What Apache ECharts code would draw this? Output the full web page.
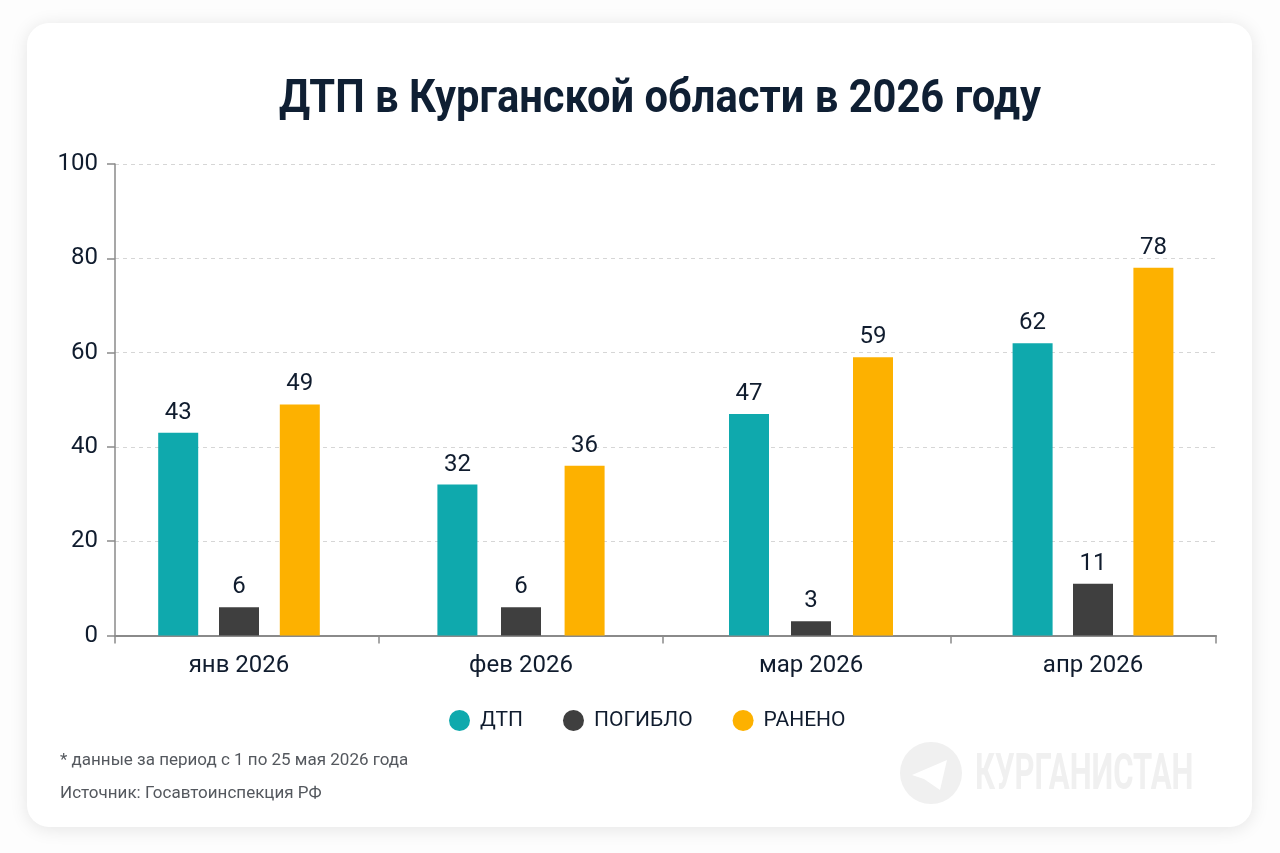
<!DOCTYPE html>
<html><head><meta charset="utf-8">
<style>html,body{margin:0;padding:0;background:#fdfdfd}#c{width:1280px;height:853px}</style>
<script src="https://cdn.jsdelivr.net/npm/echarts@6/dist/echarts.min.js"></script>
</head><body><div id="c"></div>
<script>
// Data
const months = ['янв 2026','фев 2026','мар 2026','апр 2026'];
const crashes = [43,32,47,62];
const killed = [6,6,3,11];
const injured = [49,36,59,78];
const seriesNames = ['ДТП','ПОГИБЛО','РАНЕНО'];
const yTicks = [0,20,40,60,80,100];
const titleText = 'ДТП в Курганской области в 2026 году';
const noteText = '* данные за период с 1 по 25 мая 2026 года';
const sourceText = 'Источник: Госавтоинспекция РФ';
const watermarkText = 'КУРГАНИСТАН';

// Layout (pixels on the page)
const plot = {left:115,right:1216,top:164,bottom:635.5};
const monthCentres = [239,521,811,1093];
const monthBarGaps = ['52%','59%','55%','51%'];
const monthBoundaries = [115,379,663,951,1216];
const colors = ['#0fa9ad','#3f3f3f','#fdb100'];
const ink = '#101c2e', axisGray = '#8a8a8a', FONT = 'Roboto';
const halfBand = 100;

const grids = [{left:plot.left,top:plot.top,width:plot.right-plot.left,height:plot.bottom-plot.top}];
const xAxes = [{
  type:'value',gridIndex:0,min:plot.left,max:plot.right,splitLine:{show:false},
  axisLine:{show:true,lineStyle:{color:axisGray,width:2}},
  axisTick:{show:true,length:8,customValues:monthBoundaries,lineStyle:{color:axisGray,width:1.5}},
  axisLabel:{show:false}
}];
const yAxes = [{
  type:'value',gridIndex:0,min:0,max:yTicks[yTicks.length-1],interval:20,
  axisLine:{show:true,lineStyle:{color:axisGray,width:1.5}},
  axisTick:{show:true,length:8,lineStyle:{color:axisGray,width:1.5}},
  axisLabel:{color:ink,fontFamily:FONT,fontSize:24,margin:17,padding:[3,0,0,0]},
  splitLine:{show:true,lineStyle:{color:'#d6d6d6',type:[4,4],width:1}}
}];
const series = [];
const values = [crashes,killed,injured];
months.forEach((m,i)=>{
  const g=i+1;
  grids.push({left:monthCentres[i]-halfBand,top:plot.top,width:halfBand*2,height:plot.bottom-plot.top});
  xAxes.push({type:'category',gridIndex:g,data:[m],
    axisLine:{show:false},axisTick:{show:false},
    axisLabel:{color:ink,fontFamily:FONT,fontSize:24,margin:18}});
  yAxes.push({type:'value',gridIndex:g,min:0,max:100,show:false,splitLine:{show:false}});
  seriesNames.forEach((n,s)=>{
    series.push({
      type:'bar',name:n,xAxisIndex:g,yAxisIndex:g,data:[values[s][i]],
      barWidth:40,barGap:monthBarGaps[i],itemStyle:{color:colors[s]},
      label:{show:true,position:'top',distance:8,color:ink,fontFamily:FONT,fontSize:24}
    });
  });
});

const chart = echarts.init(document.getElementById('c'),null,{renderer:'canvas'});
chart.setOption({
  animation:false,
  backgroundColor:'transparent',
  legend:{data:seriesNames,left:444,top:705,icon:'circle',itemWidth:21,itemHeight:21,itemGap:40,
    textStyle:{color:ink,fontFamily:FONT,fontSize:21,padding:[0,0,0,5]}},
  grid:grids,xAxis:xAxes,yAxis:yAxes,series:series,
  graphic:[
    {type:'rect',z:-10,silent:true,shape:{x:27,y:23,width:1225,height:804,r:22},
     style:{fill:'#fff',shadowBlur:18,shadowColor:'rgba(0,0,0,0.10)',shadowOffsetY:2}},
    {type:'text',x:660,y:100,scaleX:0.906,style:{text:titleText,fill:'#0f1f33',fontFamily:FONT,fontWeight:'bold',fontSize:46,align:'center',verticalAlign:'middle'}},
    {type:'text',left:60,top:752,style:{text:noteText,fill:'#54585e',fontFamily:FONT,fontSize:17}},
    {type:'text',left:60,top:785,style:{text:sourceText,fill:'#54585e',fontFamily:FONT,fontSize:17}},
    {type:'circle',z:-5,silent:true,shape:{cx:931,cy:773,r:31},style:{fill:'#f0f0f0'}},
    {type:'polygon',z:-4,silent:true,shape:{points:[[947,760],[912,775],[924,779],[940,790]]},style:{fill:'#fff'}},
    {type:'text',z:-5,silent:true,x:975,y:776,scaleX:0.62,style:{text:watermarkText,fill:'#f0f0f0',fontFamily:FONT,fontWeight:'bold',fontSize:50,align:'left',verticalAlign:'middle'}}
  ]
});
</script></body></html>
